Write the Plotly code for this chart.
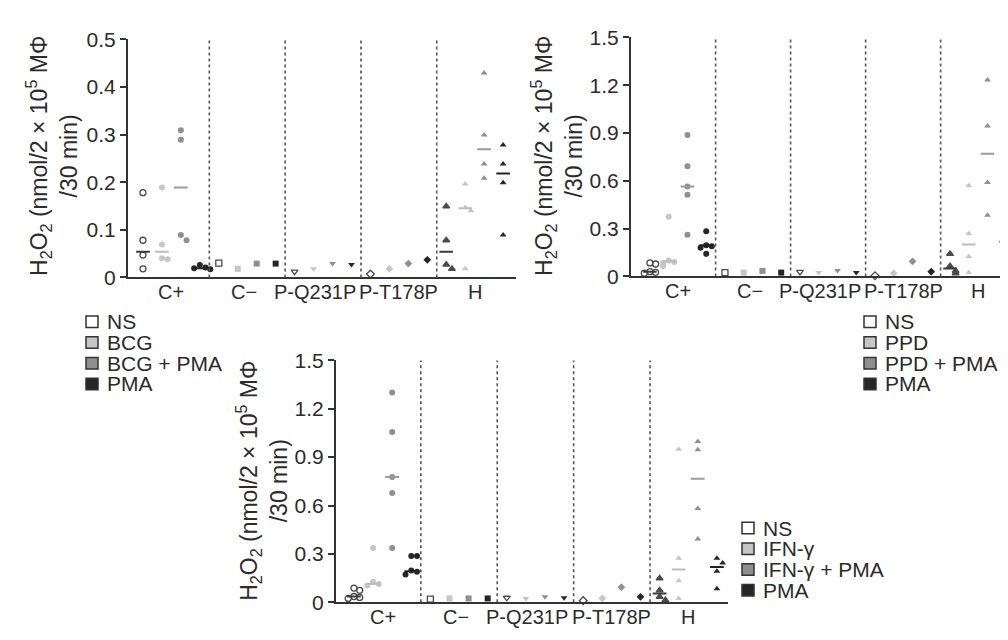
import plotly.graph_objects as go

W, H = 1008, 640

categories = ["C+", "C−", "P-Q231P", "P-T178P", "H"]
y_ticks_bcg = [0, 0.1, 0.2, 0.3, 0.4, 0.5]
y_ticklabels_bcg = ["0", "0.1", "0.2", "0.3", "0.4", "0.5"]
y_ticks_big = [0, 0.3, 0.6, 0.9, 1.2, 1.5]
y_ticklabels_big = ["0", "0.3", "0.6", "0.9", "1.2", "1.5"]

stimuli_bcg = ["NS", "BCG", "BCG + PMA", "PMA"]
stimuli_ppd = ["NS", "PPD", "PPD + PMA", "PMA"]
stimuli_ifn = ["NS", "IFN-γ", "IFN-γ + PMA", "PMA"]

# ---- BCG panel (values per category: C+, C-, P-Q231P, P-T178P, H)
bcg_ns = [[0.178, 0.078, 0.047, 0.018], [0.03], [0.012], [0.007], [0.149, 0.078, 0.027, 0.018]]
bcg_bcg = [[0.189, 0.069, 0.04, 0.038], [0.018], [0.018], [0.018], [0.196, 0.147, 0.14, 0.018]]
bcg_bcgpma = [[0.309, 0.289, 0.089, 0.078], [0.029], [0.029], [0.029], [0.429, 0.299, 0.238, 0.208]]
bcg_pma = [[0.026, 0.021, 0.019, 0.017], [0.029], [0.027], [0.037], [0.278, 0.238, 0.199, 0.089]]
bcg_median_ns = [0.054, None, None, None, 0.054]
bcg_median_bcg = [0.054, None, None, None, 0.145]
bcg_median_bcgpma = [0.189, None, None, None, 0.269]
bcg_median_pma = [0.019, None, None, None, 0.218]

# ---- PPD panel
ppd_ns = [[0.085, 0.078, 0.03, 0.026, 0.02], [0.024], [0.029], [0.004], [0.142, 0.065, 0.035, 0.02]]
ppd_ppd = [[0.375, 0.1, 0.09, 0.085, 0.065], [0.024], [0.024], [0.02], [0.57, 0.27, 0.125, 0.024]]
ppd_ppdpma = [[0.887, 0.691, 0.565, 0.513, 0.261], [0.035], [0.038], [0.095], [1.233, 0.944, 0.59, 0.384]]
ppd_pma = [[0.283, 0.196, 0.19, 0.18, 0.142], [0.024], [0.024], [0.03], [0.273, 0.247, 0.196, 0.079]]
ppd_median_ns = [0.03, None, None, None, 0.05]
ppd_median_ppd = [0.095, None, None, None, 0.2]
ppd_median_ppdpma = [0.565, None, None, None, 0.77]
ppd_median_pma = [0.195, None, None, None, 0.218]

# ---- IFN-gamma panel
ifn_ns = [[0.088, 0.074, 0.036, 0.03, 0.024], [0.02], [0.028], [0.01], [0.148, 0.074, 0.034, 0.014]]
ifn_ifn = [[0.337, 0.127, 0.114, 0.104], [0.024], [0.024], [0.024], [0.948, 0.273, 0.134, 0.024]]
ifn_ifnpma = [[1.3, 1.055, 0.776, 0.678, 0.337], [0.024], [0.035], [0.094], [0.997, 0.946, 0.582, 0.393]]
ifn_pma = [[0.287, 0.287, 0.197, 0.19, 0.173], [0.024], [0.028], [0.034], [0.273, 0.243, 0.193, 0.084]]
ifn_median_ns = [0.036, None, None, None, 0.054]
ifn_median_ifn = [0.114, None, None, None, 0.203]
ifn_median_ifnpma = [0.776, None, None, None, 0.766]
ifn_median_pma = [0.193, None, None, None, 0.218]

# ---------------- styling ----------------
FONT = "Liberation Sans, Arial, sans-serif"
TXT = "#2b2b2b"
AX = "#333333"
fills = ["white", "#c6c6c6", "#8f8f8f", "#262626"]
edges = ["#4a4a4a", "#bdbdbd", "#858585", "#222222"]
median_cols = ["#3a3a3a", "#bcbcbc", "#9a9a9a", "#222222"]
cat_symbols = ["circle", "square", "triangle-down", "diamond", "triangle-up"]

panels = [
    dict(xa="x", ya="y", vals=[bcg_ns, bcg_bcg, bcg_bcgpma, bcg_pma],
         meds=[bcg_median_ns, bcg_median_bcg, bcg_median_bcgpma, bcg_median_pma],
         stim=stimuli_bcg, ticks=y_ticks_bcg, ticklabels=y_ticklabels_bcg,
         xpx=(120, 508), ypx=(20, 267), xr=(-0.79, 19.68),
         title_c=(44, 141), leg=(78, 313)),
    dict(xa="x2", ya="y2", vals=[ppd_ns, ppd_ppd, ppd_ppdpma, ppd_pma],
         meds=[ppd_median_ns, ppd_median_ppd, ppd_median_ppdpma, ppd_median_pma],
         stim=stimuli_ppd, ticks=y_ticks_big, ticklabels=y_ticklabels_big,
         xpx=(623, 1008), ypx=(18, 266), xr=(-1.01, 19.52),
         title_c=(549, 141), leg=(856, 313)),
    dict(xa="x3", ya="y3", vals=[ifn_ns, ifn_ifn, ifn_ifnpma, ifn_pma],
         meds=[ifn_median_ns, ifn_median_ifn, ifn_median_ifnpma, ifn_median_pma],
         stim=stimuli_ifn, ticks=y_ticks_big, ticklabels=y_ticklabels_big,
         xpx=(328, 720), ypx=(353, 604), xr=(-0.94, 19.58),
         title_c=(254, 478), leg=(734, 527)),
]

n_stim = 4
y_title = "H<sub>2</sub>O<sub>2</sub> (nmol/2 × 10<sup>5</sup> MΦ<br>/30 min)"
label_shift = [0, -3, -8, 0, 0]


def spread(vals, yr):
    offs = []
    pattern = [0, 0.3, -0.3, 0.55, -0.55]
    for i, v in enumerate(vals):
        k = sum(1 for j in range(i) if abs(vals[j] - v) < 0.022 * yr)
        offs.append(pattern[min(k, len(pattern) - 1)])
    return offs


fig = go.Figure()
shapes = []
annotations = []
layout_axes = {}

for p_i, p in enumerate(panels):
    yr = p["ticks"][-1]
    for s in range(n_stim):
        for c, cat in enumerate(categories):
            vals = p["vals"][s][c]
            slot = c * n_stim + s
            offs = spread(vals, yr)
            sym = cat_symbols[c]
            if s == 0:
                if c < 4:
                    sym = sym + "-open"
                    color = edges[0]
                else:
                    color = "#4a4a4a"
            else:
                color = fills[s]
            fig.add_trace(go.Scatter(
                x=[slot + o for o in offs], y=vals, mode="markers",
                xaxis=p["xa"], yaxis=p["ya"], showlegend=False, cliponaxis=False,
                marker=dict(symbol=sym, size=6, color=color,
                            line=dict(width=1.3 if s == 0 else 0, color=color)),
                hoverinfo="skip"))
        # median lines
        mx, my = [], []
        for c in range(len(categories)):
            m = p["meds"][s][c]
            if m is None:
                continue
            slot = c * n_stim + s
            mx += [slot - 0.36, slot + 0.36, None]
            my += [m, m, None]
        fig.add_trace(go.Scatter(x=mx, y=my, mode="lines", xaxis=p["xa"], yaxis=p["ya"],
                                 showlegend=False, cliponaxis=False, hoverinfo="skip",
                                 line=dict(color=median_cols[s], width=2)))

    # dashed separators
    for c in range(1, len(categories)):
        xb = c * n_stim - 0.5
        shapes.append(dict(type="line", xref=p["xa"], yref=p["ya"], x0=xb, x1=xb,
                           y0=0, y1=yr, line=dict(color="#555555", width=1.6, dash="dot")))

    # axes
    suffix = "" if p_i == 0 else str(p_i + 1)
    x0, x1 = p["xpx"]
    yt, yb = p["ypx"]
    layout_axes["xaxis" + suffix] = dict(
        domain=[x0 / W, x1 / W], range=list(p["xr"]), anchor=p["ya"],
        showgrid=False, zeroline=False, showline=True, linecolor=AX, linewidth=2,
        showticklabels=False, ticks="")
    layout_axes["yaxis" + suffix] = dict(
        domain=[1 - yb / H, 1 - yt / H], range=[0, yr], anchor=p["xa"],
        showgrid=False, zeroline=False, showline=True, linecolor=AX, linewidth=2,
        tickvals=p["ticks"], ticktext=p["ticklabels"], ticks="outside", ticklen=6,
        tickwidth=2, tickcolor=AX, tickfont=dict(size=21, color=TXT, family=FONT))

    # category labels
    for c, cat in enumerate(categories):
        annotations.append(dict(
            x=c * n_stim + (n_stim - 1) / 2, y=1 - yb / H, xref=p["xa"], yref="paper",
            text=cat, showarrow=False, xanchor="center", yanchor="top", yshift=-2,
            xshift=label_shift[c], font=dict(size=20, color=TXT, family=FONT)))

    # y title
    tx, ty = p["title_c"]
    annotations.append(dict(
        x=tx / W, y=1 - ty / H, xref="paper", yref="paper", text=y_title,
        textangle=-90, showarrow=False, xanchor="center", yanchor="middle",
        font=dict(size=23, color=TXT, family=FONT)))

    # legend (squares + labels)
    lx, ly = p["leg"]
    for s, name in enumerate(p["stim"]):
        cy = ly + s * 21.5
        shapes.append(dict(type="rect", xref="paper", yref="paper",
                           x0=lx / W, x1=(lx + 12) / W, y0=1 - (cy + 6) / H, y1=1 - (cy - 6) / H,
                           fillcolor=fills[s], line=dict(color="#333333", width=1.5)))
        annotations.append(dict(
            x=(lx + 19) / W, y=1 - cy / H, xref="paper", yref="paper", text=name,
            showarrow=False, xanchor="left", yanchor="middle",
            font=dict(size=21, color=TXT, family=FONT)))

fig.update_layout(
    width=W, height=H, margin=dict(l=0, r=0, t=0, b=0),
    paper_bgcolor="white", plot_bgcolor="white",
    shapes=shapes, annotations=annotations, showlegend=False,
    font=dict(family=FONT, color=TXT),
    **layout_axes)

fig.write_html("out.html")
